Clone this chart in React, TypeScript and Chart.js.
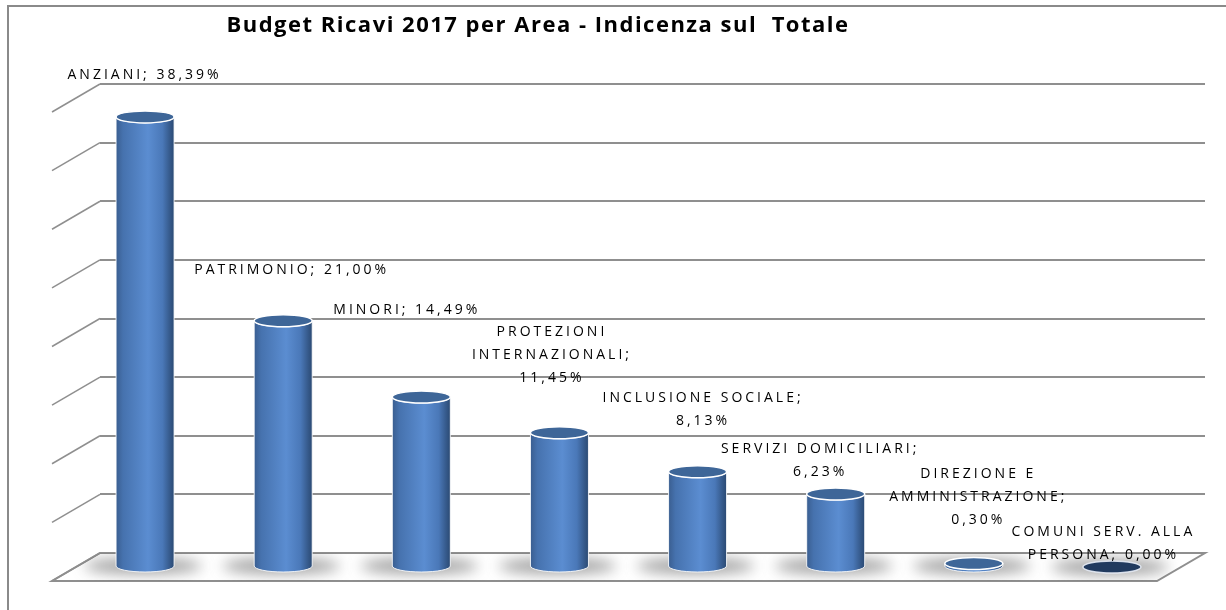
import React, { useEffect, useRef } from "react";
import { Chart, registerables } from "chart.js";

Chart.register(...registerables);

// ---------- data ----------
const categories = [
  "ANZIANI",
  "PATRIMONIO",
  "MINORI",
  "PROTEZIONI INTERNAZIONALI",
  "INCLUSIONE SOCIALE",
  "SERVIZI DOMICILIARI",
  "DIREZIONE E AMMINISTRAZIONE",
  "COMUNI SERV. ALLA PERSONA",
];
const values = [38.39, 21.0, 14.49, 11.45, 8.13, 6.23, 0.3, 0.0];
const dataLabels = [
  "ANZIANI; 38,39%",
  "PATRIMONIO; 21,00%",
  "MINORI; 14,49%",
  "PROTEZIONI\nINTERNAZIONALI;\n11,45%",
  "INCLUSIONE SOCIALE;\n8,13%",
  "SERVIZI DOMICILIARI;\n6,23%",
  "DIREZIONE E\nAMMINISTRAZIONE;\n0,30%",
  "COMUNI SERV. ALLA\nPERSONA; 0,00%",
];
const yTicks = [0, 5, 10, 15, 20, 25, 30, 35, 40];
const titleText = "Budget Ricavi 2017 per Area - Indicenza sul  Totale";

// ---------- style / layout ----------
const DEPTH_X = -48;
const DEPTH_Y = 28;
const RADIUS = 29;
const ELLIPSE_RY = 6;
const LINE_H = 23;
// label nudges: [dx of text centre from bar centre, dy of last line centre from bar top]
const labelNudge: [number, number][] = [
  [-2, -42],
  [7, -51],
  [-16, -87],
  [-9, -55],
  [4, -51],
  [-17, -22],
  [3, -43],
  [-10, -12],
];
const GRID = "#8f8f8f";

const cylinderPlugin = {
  id: "cylinder3d",
  beforeDraw(chart: any) {
    const ctx = chart.ctx;
    ctx.save();
    ctx.fillStyle = "#ffffff";
    ctx.fillRect(0, 0, chart.width, chart.height);
    ctx.strokeStyle = "#8a8a8a";
    ctx.lineWidth = 2;
    ctx.strokeRect(8, 6, chart.width + 40, chart.height + 40);
    ctx.restore();
  },
  beforeDatasetsDraw(chart: any) {
    const ctx = chart.ctx;
    const { left, right, bottom } = chart.chartArea;
    const yScale = chart.scales.y;
    ctx.save();
    // floor
    ctx.beginPath();
    ctx.moveTo(left, bottom);
    ctx.lineTo(right, bottom);
    ctx.lineTo(right + DEPTH_X, bottom + DEPTH_Y);
    ctx.lineTo(left + DEPTH_X, bottom + DEPTH_Y);
    ctx.closePath();
    ctx.fillStyle = "#ffffff";
    ctx.fill();
    ctx.strokeStyle = GRID;
    ctx.lineWidth = 2;
    ctx.stroke();
    // left wall diagonals
    ctx.lineWidth = 1.5;
    yTicks.forEach((t) => {
      const y = yScale.getPixelForValue(t);
      ctx.beginPath();
      ctx.moveTo(left, y);
      ctx.lineTo(left + DEPTH_X, y + DEPTH_Y);
      ctx.stroke();
    });
    // shadows on floor
    ctx.beginPath();
    ctx.moveTo(left, bottom);
    ctx.lineTo(right, bottom);
    ctx.lineTo(right + DEPTH_X, bottom + DEPTH_Y);
    ctx.lineTo(left + DEPTH_X, bottom + DEPTH_Y);
    ctx.closePath();
    ctx.clip();
    const meta = chart.getDatasetMeta(0);
    meta.data.forEach((el: any) => {
      const cx = el.x + DEPTH_X / 2;
      const by = el.base + DEPTH_Y / 2;
      ctx.save();
      ctx.filter = "blur(7px)";
      ctx.fillStyle = "rgba(70,70,70,0.5)";
      ctx.beginPath();
      ctx.ellipse(cx - 2, by, RADIUS + 30, 8, 0, 0, Math.PI * 2);
      ctx.fill();
      ctx.restore();
    });
    ctx.restore();
  },
  afterDatasetsDraw(chart: any) {
    const ctx = chart.ctx;
    const meta = chart.getDatasetMeta(0);
    ctx.save();
    meta.data.forEach((el: any, i: number) => {
      const cx = el.x + DEPTH_X / 2;
      const yt = el.y + DEPTH_Y / 2;
      const yb = el.base + DEPTH_Y / 2;
      const r = RADIUS;
      const ry = ELLIPSE_RY;
      if (yb - yt > 0.5) {
        const g = ctx.createLinearGradient(cx - r, 0, cx + r, 0);
        g.addColorStop(0, "#3a5e90");
        g.addColorStop(0.12, "#4672ae");
        g.addColorStop(0.55, "#5b8dd1");
        g.addColorStop(0.8, "#4a78b8");
        g.addColorStop(0.93, "#35598a");
        g.addColorStop(1, "#2b4a73");
        ctx.beginPath();
        ctx.moveTo(cx - r, yt);
        ctx.lineTo(cx - r, yb);
        ctx.ellipse(cx, yb, r, ry, 0, Math.PI, 0, true);
        ctx.lineTo(cx + r, yt);
        ctx.ellipse(cx, yt, r, ry, 0, 0, Math.PI, false);
        ctx.closePath();
        ctx.fillStyle = g;
        ctx.fill();
        ctx.strokeStyle = "rgba(255,255,255,0.85)";
        ctx.lineWidth = 1;
        ctx.stroke();
      }
      ctx.beginPath();
      ctx.ellipse(cx, yt, r, ry, 0, 0, Math.PI * 2);
      ctx.fillStyle = values[i] === 0 ? "#213a5e" : "#3e6698";
      ctx.fill();
      ctx.strokeStyle = values[i] === 0 ? "rgba(230,235,245,0.9)" : "#ffffff";
      ctx.lineWidth = 1.5;
      ctx.stroke();
    });

    // data labels
    ctx.fillStyle = "#000000";
    ctx.font = '14px "Open Sans"';
    (ctx as any).letterSpacing = "3px";
    ctx.textAlign = "center";
    ctx.textBaseline = "middle";
    meta.data.forEach((el: any, i: number) => {
      const cx = el.x + DEPTH_X / 2;
      const yt = el.y + DEPTH_Y / 2;
      const lines = dataLabels[i].split("\n");
      const [dx, dy] = labelNudge[i];
      const lastY = yt + dy;
      lines.forEach((ln, k) => {
        const y = lastY - (lines.length - 1 - k) * LINE_H;
        ctx.fillText(ln, cx + dx + 1.5, y);
      });
    });

    // title
    (ctx as any).letterSpacing = "1.5px";
    ctx.font = 'bold 22px "Open Sans"';
    ctx.fillText(titleText, 538, 26);
    ctx.restore();
  },
};

export default function App() {
  const ref = useRef<HTMLCanvasElement | null>(null);
  useEffect(() => {
    if (!ref.current) return;
    const chart = new Chart(ref.current, {
      type: "bar",
      data: {
        labels: categories,
        datasets: [
          {
            label: "Indicenza",
            data: values,
            backgroundColor: "rgba(0,0,0,0)",
            borderWidth: 0,
            barThickness: 58,
          },
        ],
      },
      options: {
        responsive: false,
        animation: false,
        devicePixelRatio: 1,
        layout: { padding: { left: 100, right: 21, top: 84, bottom: 57 } },
        plugins: {
          legend: { display: false },
          title: { display: false },
          tooltip: { enabled: false },
        },
        scales: {
          x: { display: false },
          y: {
            min: 0,
            max: 40,
            ticks: { display: false, stepSize: 5 },
            grid: { color: GRID, lineWidth: 2, drawTicks: false },
            border: { display: false },
          },
        },
      },
      plugins: [cylinderPlugin],
    });
    return () => chart.destroy();
  }, []);
  return (
    <canvas
      ref={ref}
      width={1226}
      height={610}
      style={{ position: "fixed", left: 0, top: 0, width: 1226, height: 610 }}
    />
  );
}
